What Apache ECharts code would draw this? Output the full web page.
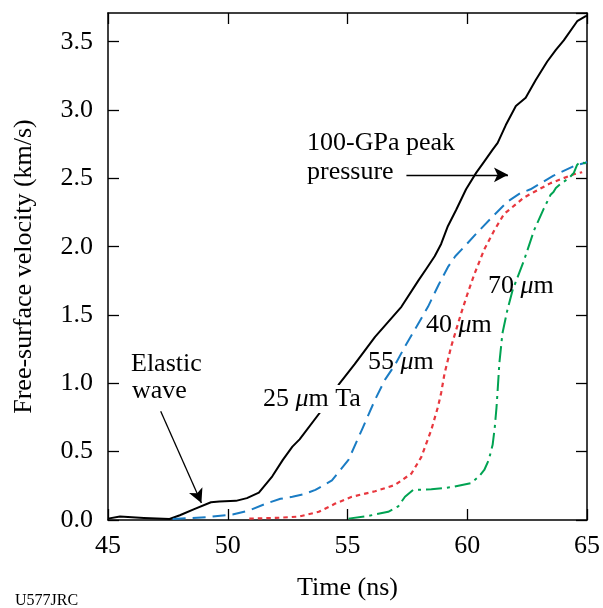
<!DOCTYPE html>
<html>
<head>
<meta charset="utf-8">
<script src="https://cdn.jsdelivr.net/npm/echarts@6/dist/echarts.min.js"></script>
<style>
html,body{margin:0;padding:0;background:#fff;}
#chart{width:603px;height:608px;}
</style>
</head>
<body>
<div id="chart"></div>
<script>
// ---- Data ----
const xTicks = [45, 50, 55, 60, 65];
const yTicks = [0.0, 0.5, 1.0, 1.5, 2.0, 2.5, 3.0, 3.5];

const ta25Time = [45.0, 45.5, 46.5, 47.57, 48.0, 48.6, 49.3, 49.65, 50.34, 50.8, 51.3, 51.86, 52.3, 52.7, 53.0, 53.93, 54.63, 55.3, 56.15, 56.7, 57.25, 57.95, 58.3, 58.64, 58.91, 59.19, 59.54, 59.95, 60.37, 60.7, 61.06, 61.27, 61.61, 62.03, 62.44, 62.86, 63.34, 63.7, 64.03, 64.59, 64.93, 65.0];
const ta25Vel  = [0.01, 0.025, 0.015, 0.007, 0.035, 0.08, 0.13, 0.135, 0.14, 0.16, 0.2, 0.32, 0.44, 0.537, 0.59, 0.805, 0.99, 1.14, 1.34, 1.45, 1.56, 1.75, 1.84, 1.93, 2.02, 2.15, 2.27, 2.42, 2.54, 2.62, 2.71, 2.76, 2.89, 3.03, 3.09, 3.22, 3.355, 3.44, 3.51, 3.65, 3.685, 3.69];

const ta55Time = [47.7, 49.1, 50.2, 50.9, 51.6, 52.2, 52.7, 53.2, 53.66, 54.35, 55.04, 55.6, 56.15, 56.56, 57.0, 57.4, 57.9, 58.36, 58.8, 59.19, 59.5, 59.88, 60.4, 61.0, 61.68, 62.2, 62.64, 63.6, 64.45, 64.86, 65.0];
const ta55Vel  = [0.007, 0.02, 0.04, 0.07, 0.12, 0.155, 0.17, 0.19, 0.22, 0.29, 0.44, 0.66, 0.88, 1.025, 1.14, 1.27, 1.42, 1.56, 1.72, 1.85, 1.93, 2.0, 2.1, 2.21, 2.33, 2.39, 2.42, 2.52, 2.59, 2.61, 2.62];

const ta40Time = [50.9, 52.0, 52.97, 53.8, 54.49, 55.18, 56.15, 56.98, 57.67, 58.08, 58.5, 58.78, 58.91, 59.05, 59.33, 59.74, 60.0, 60.3, 60.71, 61.13, 61.54, 61.96, 62.37, 62.79, 63.48, 64.0, 64.45, 64.8];
const ta40Vel  = [0.01, 0.015, 0.025, 0.06, 0.12, 0.17, 0.21, 0.256, 0.34, 0.46, 0.66, 0.83, 0.93, 1.07, 1.27, 1.51, 1.65, 1.8, 1.98, 2.12, 2.24, 2.3, 2.36, 2.4, 2.465, 2.5, 2.53, 2.545];

const ta70Time = [55.04, 55.87, 56.7, 57.12, 57.4, 57.74, 58.5, 59.33, 60.16, 60.5, 60.71, 60.9, 61.06, 61.15, 61.22, 61.27, 61.34, 61.47, 61.68, 61.89, 62.37, 62.79, 63.2, 63.48, 63.6, 63.7, 63.9, 64.24, 64.45, 64.59, 64.72, 64.93, 65.0];
const ta70Vel  = [0.01, 0.03, 0.06, 0.1, 0.17, 0.22, 0.225, 0.24, 0.27, 0.32, 0.366, 0.44, 0.55, 0.68, 0.82, 0.95, 1.147, 1.367, 1.54, 1.68, 1.90, 2.12, 2.28, 2.38, 2.40, 2.43, 2.46, 2.50, 2.54, 2.6, 2.62, 2.61, 2.6];

// annotation arrows in data units: [fromTime, fromVel, toTime, toVel]
const elasticArrow = [47.2, 0.795, 48.9, 0.125];
const pressureArrow = [57.46, 2.526, 61.7, 2.526];

function zip(xs, ys) { return xs.map((x, i) => [x, ys[i]]); }

const FONT = 'Liberation Serif, Times New Roman, serif';
const chart = echarts.init(document.getElementById('chart'), null, {renderer: 'canvas'});

const axisLineStyle = {color: '#000', width: 1.5};
const tickStyle = {show: true, inside: true, length: 11, lineStyle: {color: '#000', width: 1.3}};

function lineSeries(name, data, color, type, width) {
  return {
    name: name, type: 'line', data: data, showSymbol: false, symbol: 'none',
    smooth: false,
    lineStyle: {color: color, width: width, type: type, cap: 'butt', join: 'round'},
    z: 3
  };
}

const black = lineSeries('25 µm Ta', zip(ta25Time, ta25Vel), '#000000', 'solid', 2);
black.markLine = {
  silent: true,
  symbol: ['none', 'arrow'],
  symbolSize: [11, 14],
  label: {show: false},
  lineStyle: {color: '#000', width: 1.3, type: 'solid'},
  data: [
    [{coord: [elasticArrow[0], elasticArrow[1]]}, {coord: [elasticArrow[2], elasticArrow[3]]}],
    [{coord: [pressureArrow[0], pressureArrow[1]]}, {coord: [pressureArrow[2], pressureArrow[3]]}]
  ]
};

const textBase = {fill: '#000', font: '26px ' + FONT, align: 'left', verticalAlign: 'middle',
  rich: {i: {fontStyle: 'italic', fontSize: 26, fontFamily: FONT}, n: {fontSize: 26, fontFamily: FONT}}};
function label(text, x, y, extra) {
  return {type: 'text', style: Object.assign({}, textBase, {text: text, x: x, y: y}, extra || {}), z: 10};
}

const option = {
  backgroundColor: '#ffffff',
  animation: false,
  grid: {left: 108, right: 13, top: 13, bottom: 88, containLabel: false},
  xAxis: [{
    type: 'value', min: 45, max: 65, interval: 5, position: 'bottom',
    name: 'Time (ns)', nameLocation: 'middle', nameGap: 55,
    nameTextStyle: {fontFamily: FONT, fontSize: 26, color: '#000'},
    axisLine: {show: true, onZero: false, lineStyle: axisLineStyle},
    axisTick: tickStyle,
    axisLabel: {fontFamily: FONT, fontSize: 26, color: '#000', margin: 13},
    splitLine: {show: false}
  }, {
    type: 'value', min: 45, max: 65, interval: 5, position: 'top',
    axisLine: {show: true, onZero: false, lineStyle: axisLineStyle},
    axisTick: tickStyle, axisLabel: {show: false}, splitLine: {show: false}
  }],
  yAxis: [{
    type: 'value', min: 0, max: 3.71, interval: 0.5, position: 'left',
    name: 'Free-surface velocity (km/s)', nameLocation: 'middle', nameGap: 71,
    nameTextStyle: {fontFamily: FONT, fontSize: 26, color: '#000'},
    axisLine: {show: true, onZero: false, lineStyle: axisLineStyle},
    axisTick: tickStyle,
    axisLabel: {fontFamily: FONT, fontSize: 26, color: '#000', margin: 15, showMaxLabel: false,
      formatter: v => yTicks.some(t => Math.abs(t - v) < 1e-9) ? v.toFixed(1) : ''},
    splitLine: {show: false}
  }, {
    type: 'value', min: 0, max: 3.71, interval: 0.5, position: 'right',
    axisLine: {show: true, onZero: false, lineStyle: axisLineStyle},
    axisTick: tickStyle, axisLabel: {show: false}, splitLine: {show: false}
  }],
  series: [
    black,
    lineSeries('55 µm', zip(ta55Time, ta55Vel), '#1a7cc4', [13, 7], 2),
    lineSeries('40 µm', zip(ta40Time, ta40Vel), '#e8373e', [4.5, 4], 2.2),
    lineSeries('70 µm', zip(ta70Time, ta70Vel), '#00a352', [16, 5, 3, 5], 2)
  ],
  graphic: [
    label('Elastic', 131, 364),
    label('wave', 132, 391),
    label('{n|25 }{i|μ}{n|m Ta}', 263, 399, {backgroundColor: '#ffffff', padding: [1, 2, 1, 0]}),
    label('{n|55 }{i|μ}{n|m}', 368, 362),
    label('{n|40 }{i|μ}{n|m}', 426, 325),
    label('{n|70 }{i|μ}{n|m}', 488, 286),
    label('100-GPa peak', 307, 143),
    label('pressure', 307, 172),
    {type: 'text', style: {text: 'U577JRC', x: 15, y: 601, fill: '#000', font: '16px ' + FONT, align: 'left', verticalAlign: 'middle'}}
  ]
};
chart.setOption(option);
</script>
</body>
</html>
